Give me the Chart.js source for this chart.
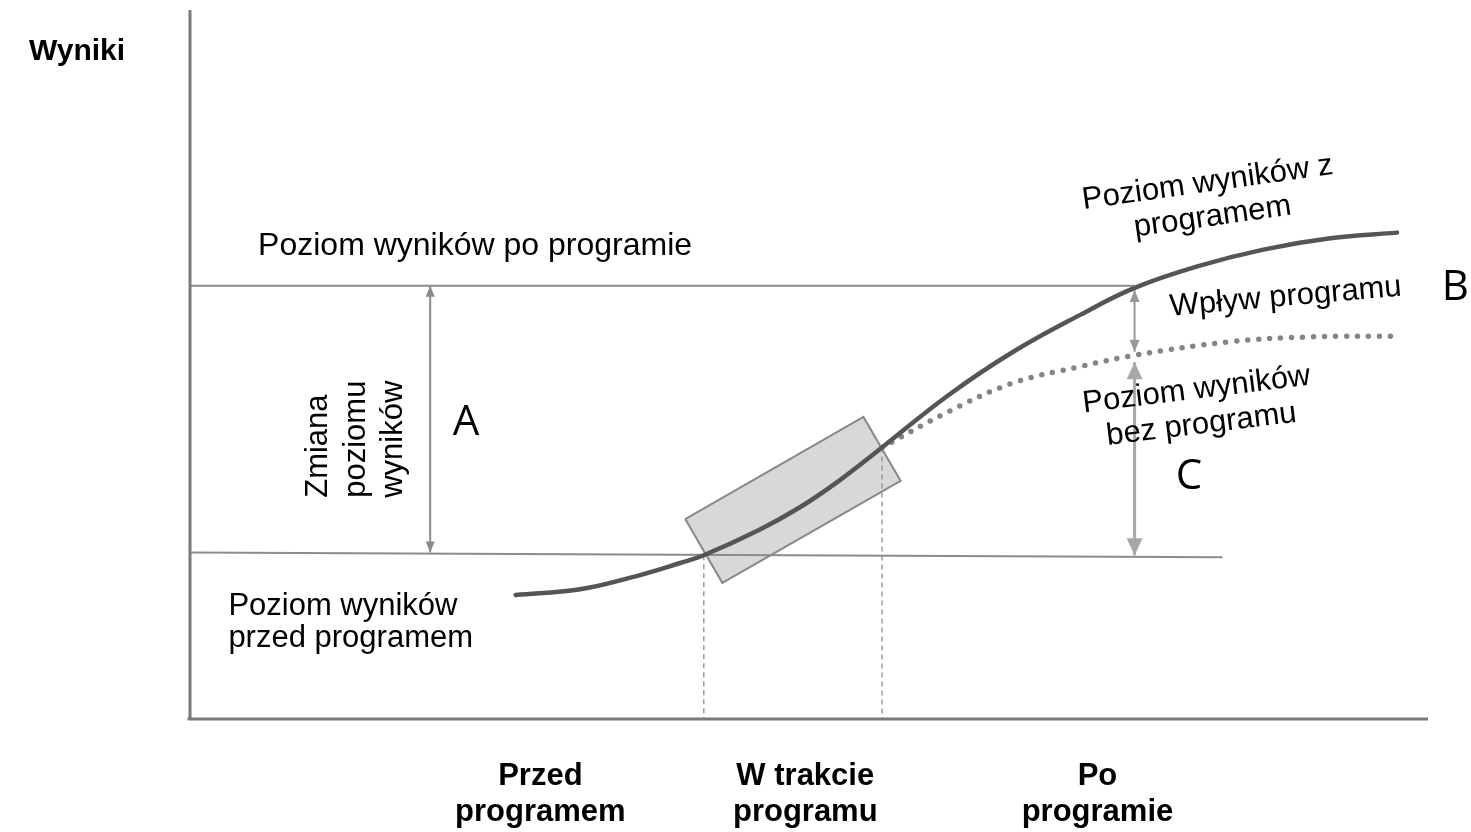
<!DOCTYPE html>
<html lang="pl">
<head>
<meta charset="utf-8">
<title>Wyniki programu</title>
<script src="https://cdn.jsdelivr.net/npm/chart.js@4.4.1/dist/chart.umd.min.js"></script>
<style>
  html, body { margin: 0; padding: 0; background: #fff; }
  #wrap { width: 1471px; height: 832px; }
</style>
</head>
<body>
<div id="wrap"><canvas id="chart" width="1471" height="832"></canvas></div>
<script>
// time runs 0-100 along x, results level 0-100 along y
const withProgramX = [26.3, 31.5, 35.5, 39.6, 41.5, 46.0, 49.3, 52.5, 55.9, 61.2, 66.5, 71.9, 76.3, 81.3, 86.7, 92.1, 97.5];
const withProgramY = [17.5, 18.3, 19.9, 22.0, 23.1, 26.7, 29.9, 33.7, 38.3, 45.6, 51.8, 57.0, 60.8, 63.8, 66.2, 67.8, 68.6];

const withoutProgramX = [55.9, 61.2, 66.5, 71.9, 76.3, 84.0, 90.7, 97.7];
const withoutProgramY = [38.3, 43.3, 47.4, 49.7, 51.3, 53.2, 53.9, 54.0];

// the tilted box marking the programme period
const boxX = [40.0, 54.4, 57.4, 43.0, 40.0];
const boxY = [28.2, 42.6, 33.6, 19.2, 28.2];

const levelAfterX = [0, 76.3];
const levelAfterY = [61.1, 61.1];
const levelBeforeX = [0, 83.4];
const levelBeforeY = [23.5, 22.8];

const startGuideX = [41.5, 41.5];
const startGuideY = [23.1, 0];
const endGuideX = [55.9, 55.9];
const endGuideY = [38.3, 0];

const arrowAX = [19.4, 19.4];
const arrowAY = [61.1, 23.5];
const arrowBX = [76.3, 76.3];
const arrowBY = [60.5, 51.8];
const arrowCX = [76.3, 76.3];
const arrowCY = [50.3, 23.1];

const axisYX = [0, 0];
const axisYY = [0, 100];
const axisXX = [-0.2, 100];
const axisXY = [0, 0];

const categories = [['Przed', 'programem'], ['W trakcie', 'programu'], ['Po', 'programie']];
const categoryX = [28.3, 49.7, 73.3];

const ARIAL = '"Liberation Sans", Arial, sans-serif';
const LETTER = '"Open Sans", "Noto Sans", sans-serif';

// text placed at chart values; angle in degrees
const notes = [
    { text: 'Poziom wyników po programie', x: 5.5, y: 65.4, align: 'left', base: 'alphabetic', font: '32px ' + ARIAL },
    { text: 'Poziom wyników', x: 3.1, y: 14.7, align: 'left', base: 'alphabetic' },
    { text: 'przed programem', x: 3.1, y: 10.2, align: 'left', base: 'alphabetic' },
    { text: 'Zmiana', x: 11.1, y: 31.2, align: 'left', base: 'alphabetic', angle: -90 },
    { text: 'poziomu', x: 14.1, y: 31.2, align: 'left', base: 'alphabetic', angle: -90 },
    { text: 'wyników', x: 17.1, y: 31.2, align: 'left', base: 'alphabetic', angle: -90 },
    { text: 'Poziom wyników z', x: 82.2, y: 75.6, angle: -8 },
    { text: 'programem', x: 82.6, y: 70.8, angle: -8 },
    { text: 'Wpływ programu', x: 88.5, y: 59.5, angle: -5 },
    { text: 'Poziom wyników', x: 81.3, y: 46.4, angle: -7 },
    { text: 'bez programu', x: 81.7, y: 41.5, angle: -7 },
    { text: 'A', x: 22.3, y: 41.8, font: '42px ' + LETTER },
    { text: 'B', x: 102.2, y: 60.8, font: '42px ' + LETTER },
    { text: 'C', x: 80.7, y: 34.1, font: '42px ' + LETTER }
];

const pts = (xs, ys) => xs.map((x, i) => ({ x: x, y: ys[i] }));

const straight = (data, color, width, extra) => Object.assign({
    data: data,
    borderColor: color,
    borderWidth: width,
    pointRadius: 0,
    tension: 0,
    fill: false,
    clip: false
}, extra || {});

const arrowHeads = {
    id: 'arrowHeads',
    afterDatasetsDraw(chart) {
        const ctx = chart.ctx;
        chart.data.datasets.forEach((ds, i) => {
            if (!ds.head) return;
            const p = chart.getDatasetMeta(i).data;
            const n = p.length;
            [[p[0], p[1]], [p[n - 1], p[n - 2]]].forEach(([tip, from]) => {
                const a = Math.atan2(tip.y - from.y, tip.x - from.x);
                ctx.save();
                ctx.translate(tip.x, tip.y);
                ctx.rotate(a);
                ctx.fillStyle = ds.borderColor;
                ctx.beginPath();
                ctx.moveTo(0, 0);
                ctx.lineTo(-ds.head.len, -ds.head.half);
                ctx.lineTo(-ds.head.len, ds.head.half);
                ctx.closePath();
                ctx.fill();
                ctx.restore();
            });
        });
    }
};

const labels = {
    id: 'labels',
    afterDraw(chart) {
        const ctx = chart.ctx;
        const xs = chart.scales.x, ys = chart.scales.y;
        const area = chart.chartArea;
        ctx.save();
        ctx.fillStyle = '#000';

        notes.forEach(n => {
            ctx.save();
            ctx.translate(xs.getPixelForValue(n.x), ys.getPixelForValue(n.y));
            ctx.rotate((n.angle || 0) * Math.PI / 180);
            ctx.font = n.font || '31px ' + ARIAL;
            ctx.textAlign = n.align || 'center';
            ctx.textBaseline = n.base || 'middle';
            ctx.fillText(n.text, 0, 0);
            ctx.restore();
        });

        // y axis title
        ctx.font = 'bold 30px ' + ARIAL;
        ctx.textAlign = 'center';
        ctx.textBaseline = 'middle';
        ctx.fillText('Wyniki', area.left - 113, area.top + 42);

        // period labels under the x axis
        ctx.font = 'bold 31px ' + ARIAL;
        categories.forEach((lines, i) => {
            const cx = xs.getPixelForValue(categoryX[i]);
            lines.forEach((line, j) => {
                ctx.fillText(line, cx, area.bottom + 57 + j * 36);
            });
        });
        ctx.restore();
    }
};

new Chart(document.getElementById('chart'), {
    type: 'line',
    data: {
        datasets: [
            straight(pts(withProgramX, withProgramY), '#555555', 4.5, {
                tension: 0.4, borderCapStyle: 'round', order: 0
            }),
            straight(pts(withoutProgramX, withoutProgramY), '#858585', 5.5, {
                tension: 0.4, borderDash: [0, 11], borderCapStyle: 'round', order: 1
            }),
            straight(pts(axisYX, axisYY), '#7a7a7a', 3, { order: 2 }),
            straight(pts(axisXX, axisXY), '#7a7a7a', 3, { order: 2 }),
            straight(pts(levelAfterX, levelAfterY), '#8c8c8c', 2, { order: 3 }),
            straight(pts(levelBeforeX, levelBeforeY), '#8c8c8c', 2, { order: 3 }),
            straight(pts(arrowAX, arrowAY), '#8a8a8a', 2, { head: { len: 11, half: 4.5 }, order: 3 }),
            straight(pts(arrowBX, arrowBY), '#9a9a9a', 2, { head: { len: 12, half: 5 }, order: 3 }),
            straight(pts(arrowCX, arrowCY), '#a8a8a8', 3, { head: { len: 17, half: 8 }, order: 3 }),
            straight(pts(startGuideX, startGuideY), '#9a9a9a', 1.5, { borderDash: [5, 4], order: 4 }),
            straight(pts(endGuideX, endGuideY), '#9a9a9a', 1.5, { borderDash: [5, 4], order: 4 }),
            straight(pts(boxX, boxY), '#888888', 2, { fill: 'shape', backgroundColor: '#d8d8d8', order: 9 })
        ]
    },
    options: {
        responsive: false,
        animation: false,
        events: [],
        layout: { padding: { left: 190, right: 43, top: 10, bottom: 113 } },
        scales: {
            x: { type: 'linear', min: 0, max: 100, display: false },
            y: { type: 'linear', min: 0, max: 100, display: false }
        },
        plugins: {
            legend: { display: false },
            tooltip: { enabled: false }
        }
    },
    plugins: [arrowHeads, labels]
});
</script>
</body>
</html>
